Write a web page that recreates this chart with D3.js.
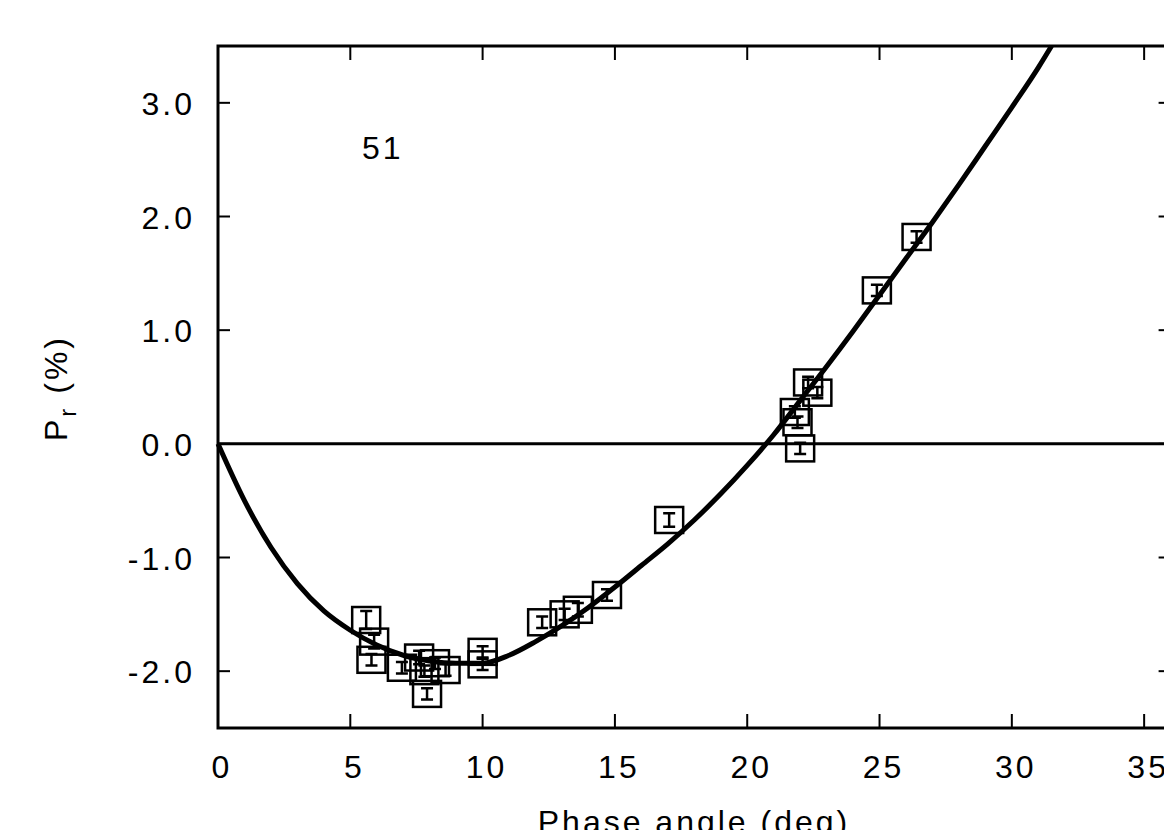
<!DOCTYPE html>
<html>
  <head>
    <title></title>
    <meta charset="UTF-8" />
    <script src="https://cdn.jsdelivr.net/npm/d3@7"></script>
    <style>
      body { margin: 0; background: #fff; }
    </style>
  </head>
  <body>
    <svg></svg>
    <script>
      // 1. data
      const phase = [5.6, 5.9, 5.8, 6.95, 7.6, 7.8, 7.9, 8.2, 8.6, 10.0, 10.0, 12.25, 13.1, 13.6, 14.7, 17.05, 21.8, 21.9, 22.0, 22.3, 22.65, 24.9, 26.4];
      const pol = [-1.55, -1.74, -1.9, -1.97, -1.88, -2.0, -2.2, -1.93, -1.99, -1.83, -1.94, -1.57, -1.5, -1.46, -1.33, -0.67, 0.28, 0.19, -0.04, 0.54, 0.45, 1.35, 1.82];
      const err = [0.08, 0.06, 0.05, 0.05, 0.06, 0.05, 0.05, 0.05, 0.05, 0.05, 0.05, 0.05, 0.05, 0.06, 0.05, 0.06, 0.05, 0.05, 0.05, 0.05, 0.05, 0.05, 0.05];
      // fitted curve
      const fitX = [0, 1, 2, 3, 4, 5, 6, 7, 8, 9, 10, 11, 12, 13, 14, 15, 16, 17, 18, 19, 20, 21, 22, 23, 24, 25, 26, 27, 28, 29, 30, 31, 31.5];
      const fitY = [0, -0.5, -0.91, -1.23, -1.47, -1.64, -1.77, -1.86, -1.91, -1.93, -1.93, -1.86, -1.74, -1.6, -1.44, -1.26, -1.07, -0.88, -0.67, -0.44, -0.19, 0.08, 0.38, 0.68, 0.99, 1.31, 1.63, 1.95, 2.28, 2.62, 2.96, 3.31, 3.5];
      const xTicks = [0, 5, 10, 15, 20, 25, 30, 35];
      const yTicks = [-2, -1, 0, 1, 2, 3];

      // 2. svg
      const width = 1164;
      const height = 830;
      const svg = d3
        .select('svg')
        .attr('width', width)
        .attr('height', height)
        .style('font-family', 'Liberation Sans, Arial, sans-serif');

      const x = d3.scaleLinear().domain([0, 36]).range([218, 1170.6]);
      const y = d3.scaleLinear().domain([-2.5, 3.5]).range([728, 46]);
      const fmt = (d) => d3.format('.1f')(d).replace('−', '-');

      // 3. frame + ticks
      const frame = svg.append('g').attr('stroke', '#000').attr('fill', 'none');
      frame
        .append('rect')
        .attr('x', x(0))
        .attr('y', y(3.5))
        .attr('width', x(36) - x(0))
        .attr('height', y(-2.5) - y(3.5))
        .attr('stroke-width', 3);

      frame
        .selectAll('line.xb')
        .data(xTicks.slice(1))
        .join('line')
        .attr('x1', (d) => x(d))
        .attr('x2', (d) => x(d))
        .attr('y1', y(-2.5))
        .attr('y2', y(-2.5) - 14)
        .attr('stroke-width', 2);
      frame
        .selectAll('line.xt')
        .data(xTicks.slice(1))
        .join('line')
        .attr('x1', (d) => x(d))
        .attr('x2', (d) => x(d))
        .attr('y1', y(3.5))
        .attr('y2', y(3.5) + 14)
        .attr('stroke-width', 2);
      frame
        .selectAll('line.yl')
        .data(yTicks)
        .join('line')
        .attr('x1', x(0))
        .attr('x2', x(0) + 12)
        .attr('y1', (d) => y(d))
        .attr('y2', (d) => y(d))
        .attr('stroke-width', 2);
      frame
        .selectAll('line.yr')
        .data(yTicks)
        .join('line')
        .attr('x1', x(36))
        .attr('x2', x(36) - 12)
        .attr('y1', (d) => y(d))
        .attr('y2', (d) => y(d))
        .attr('stroke-width', 2);

      // zero line
      svg
        .append('line')
        .attr('x1', x(0))
        .attr('x2', x(36))
        .attr('y1', y(0))
        .attr('y2', y(0))
        .attr('stroke', '#000')
        .attr('stroke-width', 3);

      // 4. tick labels
      svg
        .append('g')
        .attr('font-size', 32)
        .attr('letter-spacing', 3)
        .attr('text-anchor', 'middle')
        .selectAll('text')
        .data(xTicks)
        .join('text')
        .attr('x', (d) => x(d) + 4)
        .attr('y', 778)
        .text((d) => d);

      svg
        .append('g')
        .attr('font-size', 32)
        .attr('letter-spacing', 3)
        .attr('text-anchor', 'end')
        .selectAll('text')
        .data(yTicks)
        .join('text')
        .attr('x', 195)
        .attr('y', (d) => y(d) + 12)
        .text((d) => fmt(d));

      // 5. axis titles
      svg
        .append('text')
        .attr('font-size', 32)
        .attr('letter-spacing', 3)
        .attr('text-anchor', 'middle')
        .attr('x', 694)
        .attr('y', 833)
        .text('Phase angle (deg)');

      const yl = svg
        .append('text')
        .attr('font-size', 32)
        .attr('letter-spacing', 3)
        .attr('text-anchor', 'middle')
        .attr('transform', 'translate(67,388) rotate(-90)');
      yl.append('tspan').text('P');
      yl.append('tspan').attr('font-size', 24).attr('dy', 9).text('r');
      yl.append('tspan').attr('dy', -9).text(' (%)');

      svg
        .append('text')
        .attr('font-size', 32)
        .attr('letter-spacing', 3)
        .attr('x', 362)
        .attr('y', 159)
        .text('51');

      // 6. curve
      const line = d3
        .line()
        .x((d) => x(d[0]))
        .y((d) => y(d[1]))
        .curve(d3.curveMonotoneX);
      svg
        .append('path')
        .datum(fitX.map((d, i) => [d, fitY[i]]))
        .attr('fill', 'none')
        .attr('stroke', '#000')
        .attr('stroke-width', 5)
        .attr('d', line);

      // 7. points
      const pts = svg
        .append('g')
        .attr('stroke', '#000')
        .attr('fill', 'none')
        .selectAll('g')
        .data(phase.map((d, i) => ({ a: d, p: pol[i], e: err[i] })))
        .join('g')
        .attr('transform', (d) => `translate(${x(d.a)},${y(d.p)})`);
      pts
        .append('rect')
        .attr('x', -14)
        .attr('y', -13)
        .attr('width', 28)
        .attr('height', 26)
        .attr('stroke-width', 2.5);
      pts
        .append('path')
        .attr('stroke-width', 2.5)
        .attr('d', (d) => {
          const h = y(d.p - d.e) - y(d.p);
          return `M-6,${-h}H6M0,${-h}V${h}M-6,${h}H6`;
        });
    </script>
  </body>
</html>
